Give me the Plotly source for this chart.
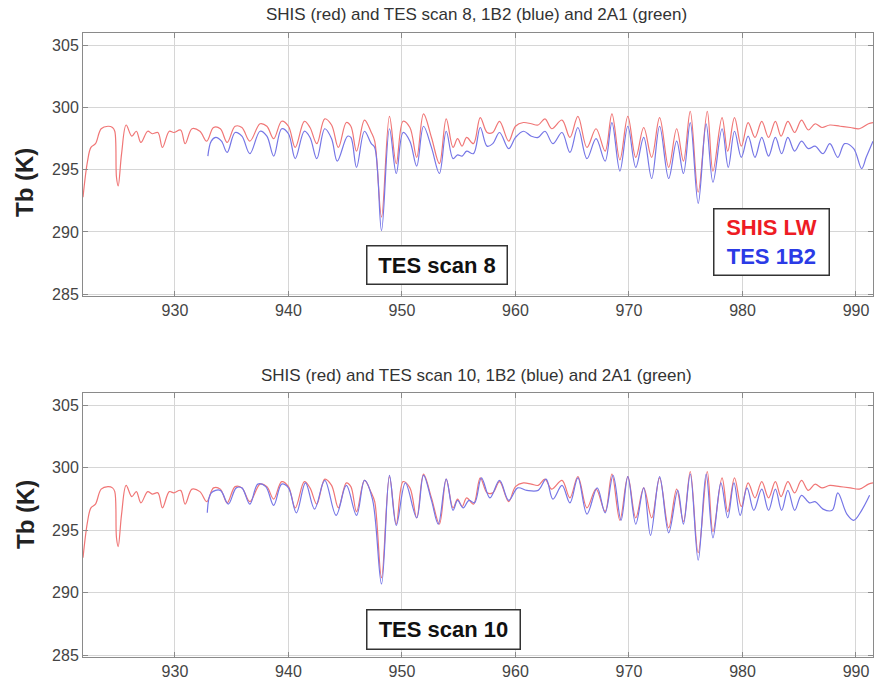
import plotly.graph_objects as go

# ---- data ----
shis_wn = [921.9, 922.3, 922.6, 923.0, 923.5, 924.1, 924.5, 924.7, 924.85, 925.0, 925.3, 925.7,
           926.2, 926.6, 927.0, 927.6, 928.0, 928.5, 928.9, 929.5, 929.9, 930.5, 930.9, 931.5,
           932.2, 932.8, 933.4, 934.0, 934.6, 935.3, 935.9, 936.6, 937.5, 938.1, 938.7, 939.4,
           940.0, 940.6, 941.4, 941.9, 942.5, 943.2, 943.8, 944.4, 945.1, 945.5, 946.0, 946.7,
           947.3, 947.6, 948.2, 948.9, 949.5, 950.1, 950.7, 951.3, 951.9, 952.6, 953.3, 953.9,
           954.5, 954.9, 955.3, 955.7, 956.3, 956.9, 957.5, 958.0, 958.6, 959.4, 960.0, 960.7,
           961.4, 962.0, 962.6, 963.2, 964.1, 964.8, 965.5, 966.3, 967.1, 967.9, 968.5, 969.2,
           969.9, 970.6, 971.3, 972.0, 972.7, 973.5, 974.2, 974.8, 975.4, 976.1, 976.9, 977.4,
           978.2, 978.7, 979.3, 979.9, 980.5, 981.1, 981.7, 982.3, 982.9, 983.4, 984.0, 984.6,
           985.2, 985.8, 986.4, 987.0, 987.7, 988.6, 989.5, 990.3, 991.1, 991.5]
shis_tb = [292.8, 295.7, 296.8, 297.1, 298.3, 298.5, 298.4, 298.1, 294.4, 293.7, 296.3, 298.6,
           297.7, 298.1, 297.2, 298.1, 297.9, 298.0, 296.8, 298.1, 298.0, 298.2, 297.1, 298.3,
           298.1, 297.3, 298.4, 298.3, 297.2, 298.5, 298.4, 297.3, 298.7, 298.5, 297.5, 298.9,
           298.5, 296.8, 298.9, 298.4, 297.1, 299.1, 298.6, 296.8, 298.8, 298.5, 296.5, 299.0,
           298.0, 297.3, 291.2, 299.3, 295.5, 298.9, 298.4, 296.0, 299.5, 297.6, 295.5, 299.1,
           296.8, 297.5, 296.9, 297.6, 297.1, 299.2, 298.0, 298.0, 298.9, 297.3, 298.5, 298.8,
           298.7, 298.6, 299.1, 298.3, 299.0, 297.6, 299.3, 296.8, 298.3, 296.5, 299.5, 295.8,
           299.3, 296.0, 298.4, 296.0, 299.2, 295.2, 298.3, 295.7, 299.7, 293.2, 299.7, 294.9,
           299.2, 296.5, 299.2, 296.9, 298.8, 297.6, 298.9, 297.6, 298.9, 297.7, 298.9, 298.0,
           299.0, 298.2, 298.7, 298.4, 298.6, 298.5, 298.4, 298.3, 298.7, 298.8]

tes8_wn = [932.9, 933.2, 933.6, 934.1, 934.6, 935.3, 935.9, 936.6, 937.5, 938.1, 938.7, 939.4,
           940.0, 940.6, 941.4, 941.9, 942.5, 943.2, 943.8, 944.3, 945.2, 945.5, 946.0, 946.7,
           947.3, 947.6, 948.2, 948.9, 949.5, 950.1, 950.7, 951.3, 951.9, 952.6, 953.3, 953.9,
           954.5, 954.9, 955.3, 955.7, 956.3, 956.9, 957.5, 958.0, 958.6, 959.4, 960.0, 960.7,
           961.4, 962.0, 962.6, 963.3, 964.1, 964.8, 965.5, 966.3, 967.1, 967.9, 968.5, 969.2,
           969.9, 970.6, 971.3, 972.0, 972.7, 973.5, 974.2, 974.8, 975.4, 976.1, 976.8, 977.4,
           978.2, 978.75, 979.3, 979.9, 980.5, 981.1, 981.7, 982.3, 982.9, 983.45, 984.0, 984.6,
           985.2, 985.8, 986.4, 987.1, 987.7, 988.4, 989.0, 989.8, 990.5, 990.9, 991.5]
tes8_tb = [296.1, 297.3, 297.6, 297.3, 296.4, 298.0, 297.7, 296.3, 298.1, 297.7, 296.1, 298.3,
           297.9, 295.9, 298.1, 297.6, 295.9, 298.3, 297.5, 295.7, 297.7, 297.6, 295.2, 298.1,
           297.1, 296.8, 290.1, 298.3, 294.7, 298.0, 297.3, 295.3, 298.5, 296.8, 294.7, 298.1,
           295.9, 296.2, 296.1, 296.5, 296.3, 298.4, 296.9, 297.1, 298.0, 296.7, 297.6, 298.1,
           297.7, 297.6, 298.1, 297.1, 298.0, 296.4, 298.4, 295.9, 297.5, 295.7, 298.8, 294.9,
           298.5, 295.2, 297.6, 294.3, 298.5, 294.3, 297.3, 294.7, 298.8, 292.3, 298.7, 294.0,
           298.3, 295.2, 298.1, 296.0, 297.7, 296.0, 297.6, 296.1, 297.6, 296.3, 297.6, 296.5,
           297.3, 296.7, 296.9, 296.3, 297.1, 296.0, 297.1, 296.7, 295.1, 296.0, 297.3]

tes10_wn = [932.85, 933.2, 934.0, 934.7, 935.4, 935.9, 936.6, 937.3, 938.0, 938.7, 939.4, 940.0,
            940.7, 941.5, 942.3, 943.2, 944.2, 945.1, 946.0, 946.7, 947.4, 948.2, 948.9, 949.5,
            950.3, 951.3, 951.9, 952.6, 953.2, 953.9, 954.5, 954.9, 955.4, 955.9, 956.4, 957.0,
            957.75, 958.6, 959.4, 960.2, 961.0, 962.0, 962.7, 963.3, 964.1, 964.8, 965.5, 966.3,
            967.2, 967.9, 968.6, 969.3, 969.9, 970.6, 971.3, 971.9, 972.7, 973.5, 974.3, 974.8,
            975.4, 976.1, 976.8, 977.4, 978.1, 978.7, 979.25, 979.8, 980.4, 981.0, 981.7, 982.3,
            982.9, 983.45, 984.0, 984.6, 985.2, 985.9, 986.4, 987.1, 987.9, 988.4, 989.2, 989.8,
            990.5, 991.2]
tes10_tb = [296.4, 298.0, 298.2, 297.1, 298.4, 298.4, 297.1, 298.7, 298.5, 297.0, 298.7, 298.4,
            296.4, 298.8, 296.7, 299.0, 296.2, 298.6, 296.2, 299.0, 297.5, 290.7, 299.4, 295.4,
            298.8, 296.0, 299.4, 297.4, 295.5, 299.1, 296.6, 297.4, 296.8, 297.4, 297.2, 299.2,
            297.6, 299.0, 297.4, 298.4, 298.2, 298.2, 299.1, 297.5, 298.6, 297.2, 299.2, 296.3,
            298.4, 296.4, 299.4, 295.8, 299.3, 295.5, 298.4, 294.6, 299.3, 294.8, 298.2, 295.5,
            299.5, 292.6, 299.5, 294.4, 298.8, 296.0, 298.8, 296.2, 298.4, 296.6, 298.3, 296.6,
            298.3, 296.6, 298.2, 296.6, 297.8, 297.2, 297.3, 296.7, 296.6, 298.0, 296.3, 295.8,
            296.6, 297.8]

x_ticks = [930, 940, 950, 960, 970, 980, 990]
y_ticks = [285, 290, 295, 300, 305]
titles = ["SHIS (red) and TES scan 8, 1B2 (blue) and 2A1 (green)",
          "SHIS (red) and TES scan 10, 1B2 (blue) and 2A1 (green)"]
scan_labels = ["TES scan 8", "TES scan 10"]

# ---- figure ----
W, H = 876, 685
RED = "rgb(240,118,118)"
BLUE = "rgb(118,118,230)"
FONT = "Liberation Sans, Arial, sans-serif"

def px(x):
    return x / W

def py(y):
    return 1 - y / H

fig = go.Figure()
line_kw = dict(shape="spline", smoothing=1.0, width=1.2)
fig.add_trace(go.Scatter(x=shis_wn, y=shis_tb, mode="lines", line=dict(color=RED, **line_kw),
                         xaxis="x", yaxis="y", showlegend=False))
fig.add_trace(go.Scatter(x=tes8_wn, y=tes8_tb, mode="lines", line=dict(color=BLUE, **line_kw),
                         xaxis="x", yaxis="y", showlegend=False))
fig.add_trace(go.Scatter(x=shis_wn, y=shis_tb, mode="lines", line=dict(color=RED, **line_kw),
                         xaxis="x2", yaxis="y2", showlegend=False))
fig.add_trace(go.Scatter(x=tes10_wn, y=tes10_tb, mode="lines", line=dict(color=BLUE, **line_kw),
                         xaxis="x2", yaxis="y2", showlegend=False))

xdom = [px(83), px(873)]
axis_common = dict(showgrid=True, gridcolor="#d6d6d6", gridwidth=1, showline=True,
                   linecolor="#8a8a8a", linewidth=1, mirror="ticks", ticks="inside",
                   ticklen=5, tickcolor="#8a8a8a", zeroline=False, automargin=False,
                   tickfont=dict(family=FONT, size=16, color="#444"))
xr = [921.9, 991.5]
yr = [284.85, 306.0]
fig.update_layout(
    width=W, height=H, margin=dict(l=0, r=0, t=0, b=0, autoexpand=False),
    paper_bgcolor="white", plot_bgcolor="white",
    xaxis=dict(domain=xdom, range=xr, tickvals=x_ticks, anchor="y", **axis_common),
    yaxis=dict(domain=[py(296), py(33)], range=yr, tickvals=y_ticks, anchor="x", **axis_common),
    xaxis2=dict(domain=xdom, range=xr, tickvals=x_ticks, anchor="y2", **axis_common),
    yaxis2=dict(domain=[py(657), py(393)], range=yr, tickvals=y_ticks, anchor="x2", **axis_common),
)

ann = []
# titles
for t, yy in zip(titles, [15, 375]):
    ann.append(dict(text=t, x=px(477), y=py(yy), xref="paper", yref="paper", showarrow=False,
                    xanchor="center", yanchor="middle",
                    font=dict(family=FONT, size=17, color="#333")))
# y axis titles
for yy in [183, 515]:
    ann.append(dict(text="<b>Tb (K)</b>", x=px(25), y=py(yy), xref="paper", yref="paper",
                    showarrow=False, xanchor="center", yanchor="middle", textangle=-90,
                    font=dict(family=FONT, size=24, color="#222")))
# scan boxes
for lab, cx, cy, w, h in [(scan_labels[0], 437, 264.5, 139, 37), (scan_labels[1], 443, 629, 152, 38)]:
    ann.append(dict(text="<b>%s</b>" % lab, x=px(cx), y=py(cy), xref="paper", yref="paper",
                    showarrow=False, xanchor="center", yanchor="middle", width=w, height=h,
                    align="center", valign="middle", bordercolor="#333", borderwidth=1.5,
                    borderpad=0, bgcolor="white",
                    font=dict(family=FONT, size=22, color="#111")))
# legend box
ann.append(dict(text="<b><span style='color:#ee1c24'>SHIS LW</span><br>"
                     "<span style='color:#2b3be6'>TES 1B2</span></b>",
                x=px(771.5), y=py(242), xref="paper", yref="paper", showarrow=False,
                xanchor="center", yanchor="middle", width=114, height=65,
                align="center", valign="middle", bordercolor="#333", borderwidth=1.5,
                borderpad=0, bgcolor="white",
                font=dict(family=FONT, size=22, color="#111")))
fig.update_layout(annotations=ann)

fig.write_html("out.html", config={"displayModeBar": False},
               post_script="document.body.style.margin='0px';document.body.style.padding='0px';"
                           "document.documentElement.style.overflow='hidden';")
